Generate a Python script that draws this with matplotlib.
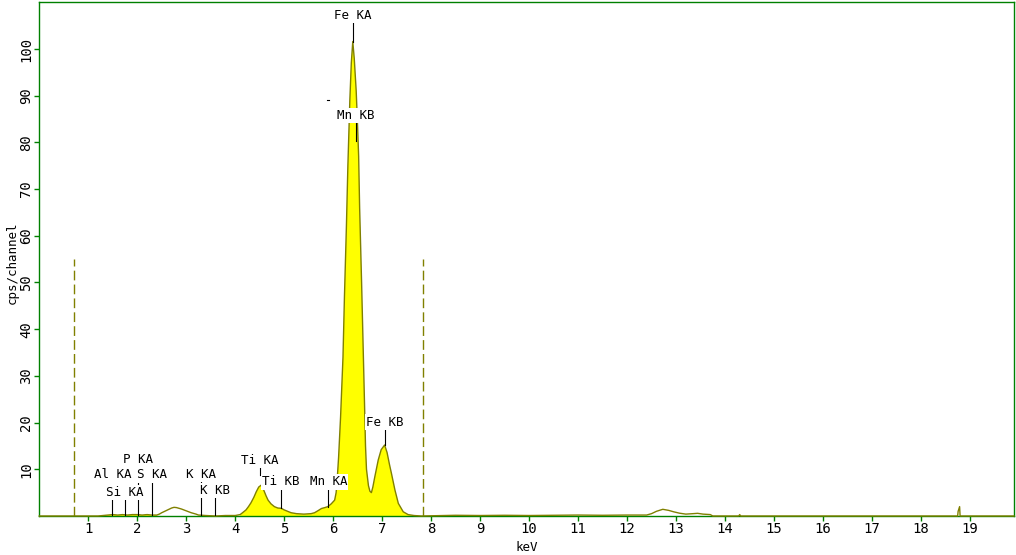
import numpy as np
import matplotlib
matplotlib.use("Agg")
import matplotlib.pyplot as plt

# spectrum (keV, cps/channel)
energy = [0.0, 1.20, 1.30, 1.40, 1.50, 1.60, 1.70, 1.80, 1.90, 2.00, 2.10, 2.20, 2.30, 2.40,
          2.45, 2.50, 2.60, 2.70, 2.75, 2.80, 2.90, 3.00, 3.10, 3.20, 3.25, 3.40, 3.60, 3.80,
          4.00, 4.10, 4.15, 4.22, 4.27, 4.32, 4.38, 4.43, 4.48, 4.53, 4.58, 4.63, 4.67, 4.73,
          4.80, 4.87, 4.94, 5.00, 5.07, 5.14, 5.25, 5.40, 5.55, 5.62, 5.70, 5.76, 5.83, 5.89,
          5.96, 6.03, 6.06, 6.08, 6.11, 6.15, 6.20, 6.23, 6.27, 6.30, 6.34, 6.37, 6.40, 6.43,
          6.47, 6.50, 6.52, 6.54, 6.58, 6.61, 6.64, 6.66, 6.68, 6.72, 6.75, 6.78, 6.81, 6.85,
          6.92, 6.98, 7.05, 7.10, 7.15, 7.19, 7.26, 7.33, 7.43, 7.53, 7.65, 7.80,
          8.50, 9.00, 9.50, 10.00, 10.50, 11.00, 11.50, 12.00, 12.40, 12.50, 12.60, 12.73,
          12.85, 12.95, 13.07, 13.20, 13.35, 13.44, 13.55, 13.70, 13.75, 14.00, 14.28, 14.30,
          14.32, 18.75, 18.76, 18.79, 18.80, 19.90]
counts = [0.0, 0.0, 0.1, 0.2, 0.3, 0.2, 0.3, 0.2, 0.3, 0.3, 0.2, 0.3, 0.2, 0.2,
          0.4, 0.7, 1.2, 1.7, 1.85, 1.8, 1.5, 1.1, 0.7, 0.4, 0.2, 0.1, 0.0, 0.1,
          0.1, 0.3, 0.7, 1.3, 2.0, 2.8, 4.0, 5.2, 6.2, 6.6, 5.6, 4.3, 3.4, 2.6,
          2.0, 1.7, 1.65, 1.3, 1.0, 0.7, 0.5, 0.4, 0.5, 0.7, 1.2, 1.6, 1.8, 2.0,
          2.6, 3.4, 5.0, 7.5, 12.5, 21.0, 34.0, 47.0, 62.0, 75.0, 89.0, 97.0, 101.6, 98.0,
          91.0, 83.0, 77.0, 66.0, 50.0, 37.0, 24.0, 15.0, 10.0, 6.5, 5.3, 5.0, 6.2, 8.4,
          12.0, 14.2, 15.2, 13.6, 11.0, 9.1, 5.6, 2.7, 0.9, 0.3, 0.1, 0.0,
          0.15, 0.1, 0.15, 0.1, 0.15, 0.2, 0.15, 0.2, 0.2, 0.5, 1.0, 1.43,
          1.2, 0.9, 0.6, 0.4, 0.5, 0.57, 0.4, 0.3, 0.0, 0.0, 0.0, 0.3,
          0.0, 0.0, 1.0, 2.0, 0.0, 0.0]

# peak labels: name, line energy
peak_names = ["Fe KA", "Mn KB", "Fe KB", "Ti KA", "Ti KB", "Mn KA",
              "K KA", "K KB", "P KA", "Al KA", "Si KA", "S KA"]
peak_kev = [6.40, 6.46, 7.05, 4.51, 4.93, 5.90, 3.31, 3.59, 2.01, 1.49, 1.74, 2.31]
# layout: text height, marker top, marker bottom (in cps)
text_y = [107.1, 85.7, 20.1, 11.9, 7.3, 7.3, 8.9, 5.4, 12.0, 8.8, 5.1, 8.8]
mark_top = [105.6, 84.5, 18.4, 10.3, 5.8, 6.0, 7.7, 4.1, 10.7, 3.9, 3.9, 7.3]
mark_bot = [101.6, 80.2, 15.2, 8.8, 1.7, 1.9, 0.0, 0.0, 0.0, 0.0, 0.0, 0.0]

roi_kev = [0.71, 7.84]
roi_height = 55

x_ticks = list(range(1, 20))
y_ticks = list(range(10, 101, 10))

OLIVE = "#808000"
GREEN = "#008000"
mono = "DejaVu Sans Mono"

e = np.array(energy)
c = np.array(counts)

fig = plt.figure(figsize=(10.16, 5.55), dpi=100)
ax = fig.add_axes([0.0387, 0.0703, 0.9593, 0.9256])

mask = ((e >= 1.2) & (e <= 2.42)) | ((e >= 4.05) & (e <= 7.8))
ax.fill_between(e, 0, c, where=mask, color="#ffff00", lw=0, zorder=1)
ax.plot(e, c, color=OLIVE, lw=1.0, zorder=3, clip_on=False)

for xr in roi_kev:
    ax.plot([xr, xr], [0, roi_height], color=OLIVE, lw=1.0,
            dashes=(7, 3), zorder=2)

for name, xk, ty, mt, mb in zip(peak_names, peak_kev, text_y, mark_top, mark_bot):
    ax.plot([xk, xk], [mb, mt], color="black", lw=0.8, zorder=4)
    ax.text(xk, ty, name, ha="center", va="center", fontsize=9,
            family=mono, zorder=5,
            bbox=dict(facecolor="white", edgecolor="none", pad=0.8))

# stray dash left of Mn KB
ax.plot([5.865, 5.905], [89.0, 89.0], color="black", lw=0.8, zorder=4)

ax.set_xlim(0, 19.9)
ax.set_ylim(0, 110)
ax.set_xticks(x_ticks)
ax.set_yticks(y_ticks)
ax.set_xticklabels([str(t) for t in x_ticks], family=mono, fontsize=10)
ax.set_yticklabels([str(t) for t in y_ticks], family=mono, fontsize=10,
                   rotation=90, va="center")
ax.tick_params(axis="both", color=GREEN, length=3.6, width=1.0, direction="out",
               pad=1, labelcolor="black")

for sp in ax.spines.values():
    sp.set_color(GREEN)
    sp.set_linewidth(1.0)

ax.set_xlabel("keV", family=mono, fontsize=9)
ax.xaxis.set_label_coords(0.5, -0.048)
ax.set_ylabel("cps/channel", family=mono, fontsize=9)
ax.yaxis.set_label_coords(-0.0215, 0.4925)

fig.savefig("out.png", dpi=100)
